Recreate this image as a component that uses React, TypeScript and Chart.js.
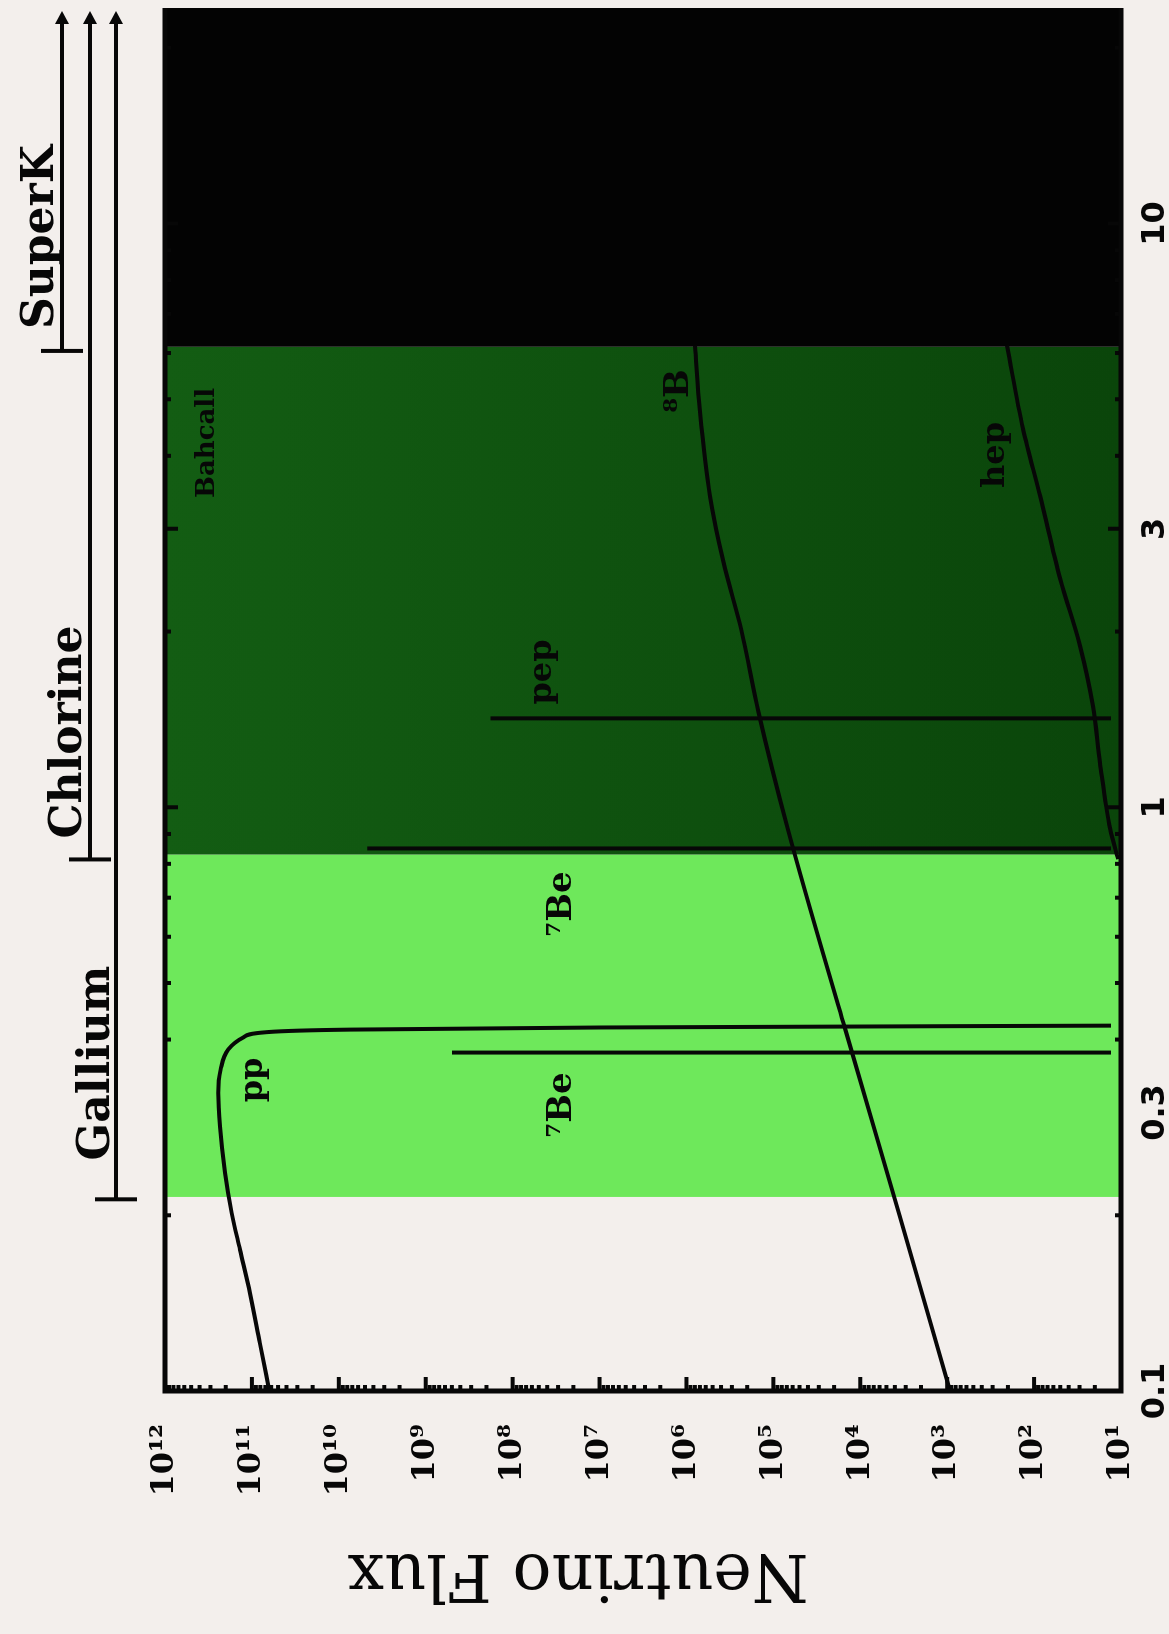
import { useEffect, useRef } from "react";
import { Chart, registerables } from "chart.js";

Chart.register(...registerables);

// The figure is laid out landscape (energy across, flux up) and then
// turned a quarter turn counter-clockwise on the page.
const W = 1634;
const H = 1169;

// ---- solar neutrino spectra (energy in MeV, flux per MeV for continua) ----
const ppEnergy = [0.1, 0.1208, 0.147, 0.1746, 0.202, 0.2366, 0.284, 0.324, 0.3553, 0.3847, 0.4032, 0.4118, 0.416, 0.4195, 0.4226];
const ppFlux = [6.3e10, 8.1e10, 1.05e11, 1.37e11, 1.71e11, 2.04e11, 2.33e11, 2.44e11, 2.29e11, 1.87e11, 1.26e11, 6.8e10, 7.4e9, 9.9e6, 13];

const b8Energy = [0.1, 0.199, 0.418, 0.917, 1.455, 2.02, 2.63, 3.41, 4.76, 6.18];
const b8Flux = [927, 3.5e3, 1.5e4, 6.8e4, 1.48e5, 2.35e5, 3.75e5, 5.35e5, 6.98e5, 7.97e5];

const hepEnergy = [0.815, 0.917, 1.19, 1.49, 1.89, 2.46, 3.41, 4.45, 6.18];
const hepFlux = [10.8, 13.3, 17.4, 21, 29.6, 50, 85, 134, 205];

// line sources: 7Be (two lines) and pep
const lineNames = ["7Be 0.38", "7Be 0.86", "pep"];
const lineEnergy = [0.38, 0.85, 1.42];
const lineFlux = [5.0e8, 4.7e9, 1.8e8];
const lineFloor = 13;

// energy windows seen by each experiment
const bandStart = [0.1, 0.215, 0.83, 6.15];
const detectorNames = ["Gallium", "Chlorine", "SuperK"];
const detectorThreshold = [0.213, 0.814, 6.05];

// axes
const E_MIN = 0.1;
const E_MAX = 23.4;
const F_MIN = 10;
const F_MAX = 1e12;
const energyTicks = [0.1, 0.3, 1, 3, 10];
const energyTickLabels = ["0.1", "0.3", "1", "3", "10"];
const energyMinor = [0.2, 0.4, 0.5, 0.6, 0.7, 0.8, 0.9, 1, 2, 3, 4, 5, 6, 7, 8, 9, 10, 20];
const fluxTicks = [1e1, 1e2, 1e3, 1e4, 1e5, 1e6, 1e7, 1e8, 1e9, 1e10, 1e11, 1e12];
const fluxTickLabels = ["10¹", "10²", "10³", "10⁴", "10⁵", "10⁶", "10⁷", "10⁸", "10⁹", "10¹⁰", "10¹¹", "10¹²"];

// ---- styling ----
const INK = "#070707";
const PAPER = "#f3efec";
const BAND_FILL = [PAPER, "#6ee85b", "dark", "#030303"];
const SERIF_BOLD = (px: number) => `bold ${px}px "DejaVu Serif"`;

const toPoints = (xs: number[], ys: number[]) => xs.map((x, i) => ({ x, y: ys[i] }));

const bandsPlugin = {
  id: "bands",
  beforeDatasetsDraw(chart: any) {
    const { ctx, chartArea: a, scales } = chart;
    const xs = scales.x;
    ctx.save();
    for (let i = 0; i < bandStart.length; i++) {
      const x0 = xs.getPixelForValue(bandStart[i]);
      const x1 = i + 1 < bandStart.length ? xs.getPixelForValue(bandStart[i + 1]) : a.right;
      if (BAND_FILL[i] === "dark") {
        const g = ctx.createLinearGradient(0, a.top, 0, a.bottom);
        g.addColorStop(0, "#135d13");
        g.addColorStop(1, "#0a450a");
        ctx.fillStyle = g;
      } else {
        ctx.fillStyle = BAND_FILL[i];
      }
      ctx.fillRect(x0, a.top, x1 - x0, a.bottom - a.top);
    }
    ctx.restore();
  },
};

const framePlugin = {
  id: "frame",
  afterDatasetsDraw(chart: any) {
    const { ctx, chartArea: a, scales } = chart;
    const xs = scales.x;
    const ys = scales.y;
    ctx.save();
    ctx.strokeStyle = INK;
    ctx.lineCap = "butt";
    // flux ticks on the left edge, pointing in
    ctx.lineWidth = 4;
    for (let d = 1; d <= 12; d++) {
      for (let m = 1; m <= 9; m++) {
        const v = m * Math.pow(10, d);
        if (v < F_MIN || v > F_MAX) continue;
        const len = m === 1 ? 14 : 6;
        const py = ys.getPixelForValue(v);
        ctx.beginPath();
        ctx.moveTo(a.left, py);
        ctx.lineTo(a.left + len, py);
        ctx.stroke();
      }
    }
    // energy ticks on top and bottom edges
    for (const e of energyMinor) {
      const len = energyTicks.includes(e) ? 13 : 6;
      const px = xs.getPixelForValue(e);
      ctx.beginPath();
      ctx.moveTo(px, a.bottom);
      ctx.lineTo(px, a.bottom - len);
      ctx.moveTo(px, a.top);
      ctx.lineTo(px, a.top + len);
      ctx.stroke();
    }
    // frame
    ctx.lineWidth = 5;
    ctx.beginPath();
    ctx.moveTo(a.right, a.top);
    ctx.lineTo(a.left, a.top);
    ctx.lineTo(a.left, a.bottom);
    ctx.lineTo(a.right, a.bottom);
    ctx.stroke();
    ctx.restore();
  },
};

// detector brackets above the plot, and the text annotations
const bracketRowY = [116, 90, 62];
const bracketLabelBaseline = [109, 81, 53];
const bracketLabelCenter = [571, 902, 1397];

const innerLabels = [
  { text: "pp", x: 554, y: 262, size: 32 },
  { text: "⁷Be", x: 529, y: 571, size: 34 },
  { text: "⁷Be", x: 730, y: 571, size: 34 },
  { text: "pep", x: 962, y: 551, size: 32 },
  { text: "⁸B", x: 1243, y: 688, size: 34 },
  { text: "hep", x: 1179, y: 1004, size: 32 },
  { text: "Bahcall", x: 1191, y: 214, size: 26 },
];

const annotationPlugin = {
  id: "annotations",
  afterDraw(chart: any) {
    const { ctx, chartArea: a, scales } = chart;
    const xs = scales.x;
    ctx.save();
    ctx.strokeStyle = INK;
    ctx.fillStyle = INK;
    // brackets
    for (let i = 0; i < detectorNames.length; i++) {
      const y = bracketRowY[i];
      const x0 = xs.getPixelForValue(detectorThreshold[i]);
      const tip = a.right - 3;
      ctx.lineWidth = 4;
      ctx.beginPath();
      ctx.moveTo(x0, y);
      ctx.lineTo(tip - 10, y);
      ctx.moveTo(x0, y - 21);
      ctx.lineTo(x0, y + 21);
      ctx.stroke();
      ctx.beginPath();
      ctx.moveTo(tip, y);
      ctx.lineTo(tip - 13, y - 7);
      ctx.lineTo(tip - 13, y + 7);
      ctx.closePath();
      ctx.fill();
      ctx.font = SERIF_BOLD(44);
      ctx.textAlign = "center";
      ctx.textBaseline = "alphabetic";
      ctx.fillText(detectorNames[i], bracketLabelCenter[i], bracketLabelBaseline[i]);
    }
    // labels on the spectra
    for (const l of innerLabels) {
      ctx.font = SERIF_BOLD(l.size);
      ctx.textAlign = "center";
      ctx.textBaseline = "alphabetic";
      ctx.fillText(l.text, l.x, l.y);
    }
    // flux axis title
    ctx.translate(79, 578);
    ctx.rotate(-Math.PI / 2);
    ctx.font = `65px "DejaVu Serif"`;
    ctx.textAlign = "center";
    ctx.textBaseline = "alphabetic";
    ctx.fillText("Neutrino Flux", 0, 0);
    ctx.restore();
  },
};

export default function App() {
  const ref = useRef<HTMLCanvasElement>(null);

  useEffect(() => {
    const canvas = ref.current;
    if (!canvas) return;
    const curve = (label: string, xs: number[], ys: number[]) => ({
      label,
      data: toPoints(xs, ys),
      borderColor: INK,
      borderWidth: 4,
      pointRadius: 0,
      fill: false,
      cubicInterpolationMode: "monotone" as const,
    });
    const lines = lineNames.map((name, i) => ({
      label: name,
      data: [
        { x: lineEnergy[i], y: lineFlux[i] },
        { x: lineEnergy[i], y: lineFloor },
      ],
      borderColor: INK,
      borderWidth: 4,
      pointRadius: 0,
      fill: false,
      tension: 0,
    }));

    const chart = new Chart(canvas, {
      type: "line",
      data: {
        datasets: [
          curve("pp", ppEnergy, ppFlux),
          curve("8B", b8Energy, b8Flux),
          curve("hep", hepEnergy, hepFlux),
          ...lines,
        ],
      },
      options: {
        responsive: false,
        devicePixelRatio: 1,
        animation: false,
        events: [],
        parsing: false as any,
        layout: { padding: { top: 165, right: 8, bottom: 0, left: 0 } },
        plugins: { legend: { display: false }, tooltip: { enabled: false } },
        scales: {
          x: {
            type: "logarithmic",
            min: E_MIN,
            max: E_MAX,
            grid: { display: false },
            border: { display: false },
            afterBuildTicks: (s: any) => {
              s.ticks = energyTicks.map((v) => ({ value: v }));
            },
            afterFit: (s: any) => {
              s.height = 48;
            },
            ticks: {
              autoSkip: false,
              maxRotation: 0,
              minRotation: 0,
              padding: 7,
              color: INK,
              font: { family: "DejaVu Sans", weight: "bold", size: 32 },
              callback: (_v: any, i: number) => energyTickLabels[i],
            },
          },
          y: {
            type: "logarithmic",
            min: F_MIN,
            max: F_MAX,
            grid: { display: false },
            border: { display: false },
            afterBuildTicks: (s: any) => {
              s.ticks = fluxTicks.map((v) => ({ value: v }));
            },
            afterFit: (s: any) => {
              s.width = 243;
            },
            ticks: {
              autoSkip: false,
              padding: 25,
              color: INK,
              font: { family: "DejaVu Serif", weight: "bold", size: 32 },
              callback: (_v: any, i: number) => fluxTickLabels[i],
            },
          },
        },
      } as any,
      plugins: [bandsPlugin, framePlugin, annotationPlugin],
    });
    return () => chart.destroy();
  }, []);

  return (
    <div
      style={{
        position: "fixed",
        left: 0,
        top: 0,
        width: H,
        height: W,
        overflow: "hidden",
        background: PAPER,
      }}
    >
      <div
        style={{
          position: "absolute",
          left: 0,
          top: 0,
          width: W,
          height: H,
          transformOrigin: "0 0",
          transform: `translateY(${W}px) rotate(-90deg)`,
        }}
      >
        <canvas ref={ref} width={W} height={H} style={{ display: "block", width: W, height: H }} />
      </div>
    </div>
  );
}
